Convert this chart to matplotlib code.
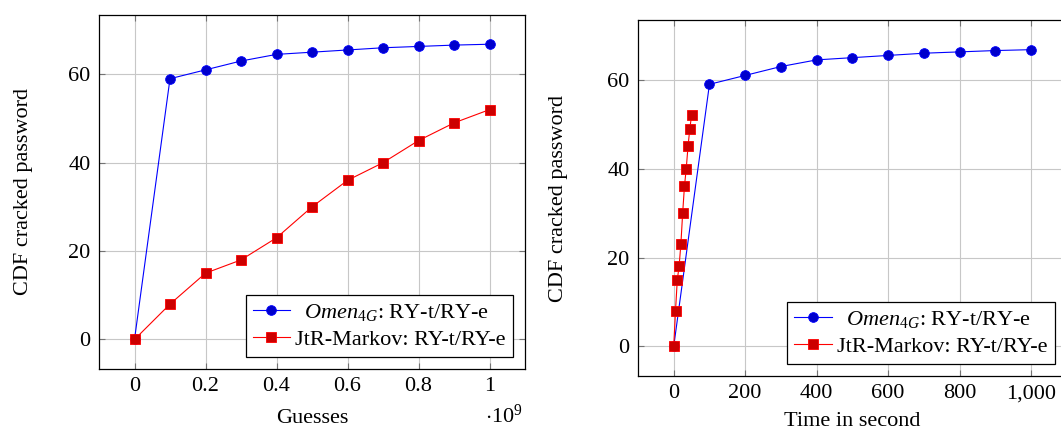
import matplotlib
matplotlib.use("Agg")
import matplotlib.pyplot as plt
from matplotlib.ticker import FuncFormatter, MultipleLocator

# ---- data ----
guesses = [0, 1e8, 2e8, 3e8, 4e8, 5e8, 6e8, 7e8, 8e8, 9e8, 1e9]
omen_cdf = [0, 59, 61, 63, 64.5, 65, 65.5, 66, 66.3, 66.6, 66.8]
jtr_cdf = [0, 8, 15, 18, 23, 30, 36, 40, 45, 49, 52]
omen_time = [0, 100, 200, 300, 400, 500, 600, 700, 800, 900, 1000]
jtr_time = [0, 5, 10, 15, 20, 25, 30, 35, 40, 45, 50]
label_omen = r"$Omen_{4G}$: RY-t/RY-e"
label_jtr = "JtR-Markov: RY-t/RY-e"
ylabel = "CDF cracked password"
xlabel_left = "Guesses"
xlabel_right = "Time in second"

plt.rcParams['font.family'] = ['Liberation Serif', 'DejaVu Serif']
plt.rcParams['mathtext.fontset'] = 'custom'
plt.rcParams['mathtext.rm'] = 'Liberation Serif'
plt.rcParams['mathtext.it'] = 'Liberation Serif:italic'
FS = 16

fig = plt.figure(figsize=(10.61, 4.33), dpi=100)
ax1 = fig.add_axes([99/1061, (433-369)/433, 426/1061, 354.3/433])
ax2 = fig.add_axes([638/1061, (433-376)/433, 428.7/1061, 356/433])

# centre the shorter legend entry like pgfplots does
r = fig.canvas.get_renderer()
t1 = fig.text(0, 0, label_omen, fontsize=FS)
t2 = fig.text(0, 0, label_jtr, fontsize=FS)
w1 = t1.get_window_extent(r).width
w2 = t2.get_window_extent(r).width
t1.remove(); t2.remove()
pad_em = max((w2 - w1) / 2, 0) / (FS * 100 / 72)
label_omen_c = rf"$\hspace{{{pad_em:.3f}}}$" + label_omen

blue_kw = dict(color=(0, 0, 1), lw=0.8, marker='o', markersize=7,
               markerfacecolor=(0, 0, 0.8), markeredgecolor=(0, 0, 1), markeredgewidth=0.6)
red_kw = dict(color=(1, 0, 0), lw=0.8, marker='s', markersize=6.8,
              markerfacecolor=(0.8, 0, 0), markeredgecolor=(1, 0, 0), markeredgewidth=0.6)

ax1.plot(guesses, omen_cdf, label=label_omen_c, **blue_kw)
ax1.plot(guesses, jtr_cdf, label=label_jtr, **red_kw)
ax2.plot(omen_time, omen_cdf, label=label_omen_c, **blue_kw)
ax2.plot(jtr_time, jtr_cdf, label=label_jtr, **red_kw)

ax1.set_xlim(-0.1e9, 1.1e9)
ax2.set_xlim(-100, 1100)
for ax, ylx in ((ax1, -0.155), (ax2, -0.163)):
    ax.set_ylim(-6.68, 73.48)
    ax.yaxis.set_major_locator(MultipleLocator(20))
    ax.grid(True, color=(0.78, 0.78, 0.78), lw=0.8)
    ax.set_axisbelow(True)
    ax.tick_params(direction='in', length=4, width=0.8, color=(0.45, 0.45, 0.45),
                   top=True, right=True, labelsize=FS, pad=6)
    for s in ax.spines.values():
        s.set_linewidth(0.9)
        s.set_color('black')
    ax.set_ylabel(ylabel, fontsize=FS)
    ax.yaxis.set_label_coords(ylx, 0.5)
    leg = ax.legend(loc='lower right', bbox_to_anchor=(1, 0), fontsize=FS,
                    frameon=True, fancybox=False, framealpha=1, edgecolor='black',
                    borderaxespad=0.54, borderpad=0.32, labelspacing=0.3,
                    handlelength=1.67, handletextpad=0.25)
    leg.get_frame().set_linewidth(0.9)

ax1.xaxis.set_major_locator(MultipleLocator(0.2e9))
ax1.xaxis.set_major_formatter(FuncFormatter(lambda v, p: f"{v/1e9:g}"))
ax2.xaxis.set_major_locator(MultipleLocator(200))
ax2.xaxis.set_major_formatter(FuncFormatter(lambda v, p: f"{int(round(v)):,}"))

ax1.set_xlabel(xlabel_left, fontsize=FS)
ax1.xaxis.set_label_coords(0.5, -0.113)
ax2.set_xlabel(xlabel_right, fontsize=FS)
ax2.xaxis.set_label_coords(0.5, -0.1)
ax1.text(0.995, -0.152, r"$\cdot10^{9}$", transform=ax1.transAxes, ha='right',
         va='baseline', fontsize=FS)

fig.savefig("out.png", dpi=100)
